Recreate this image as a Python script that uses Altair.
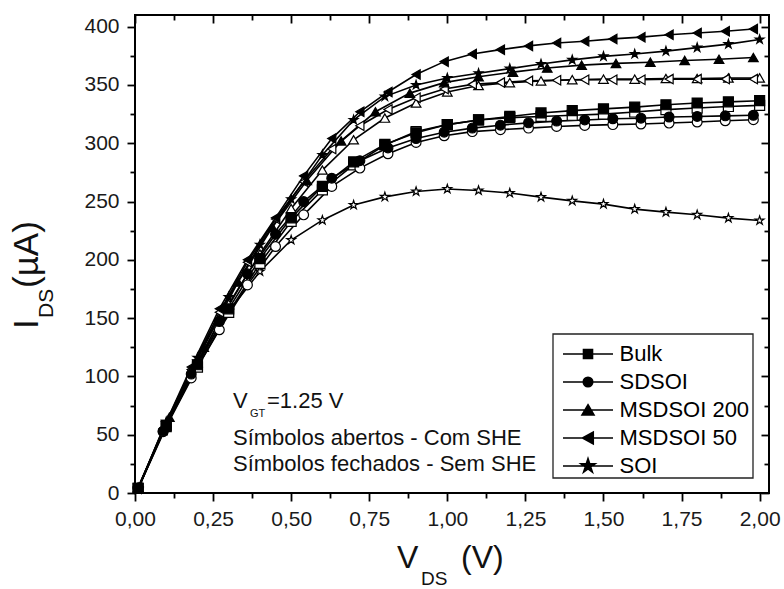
import altair as alt
import pandas as pd

# ---------------- data ----------------
V_STEP10 = [0.01, 0.10, 0.20, 0.30, 0.40, 0.50, 0.60, 0.70, 0.80, 0.90, 1.00,
            1.10, 1.20, 1.30, 1.40, 1.50, 1.60, 1.70, 1.80, 1.90, 2.00]
V_STEP09 = [0.01, 0.09, 0.18, 0.27, 0.36, 0.45, 0.54, 0.63, 0.72, 0.81, 0.90, 0.99,
            1.08, 1.17, 1.26, 1.35, 1.44, 1.53, 1.62, 1.71, 1.80, 1.89, 1.98]
V_STEP11 = [0.01, 0.11, 0.22, 0.33, 0.44, 0.55, 0.66, 0.77, 0.88, 0.99,
            1.10, 1.21, 1.32, 1.43, 1.54, 1.65, 1.76, 1.87, 1.98]

BULK_CLOSED = [4, 58, 110, 158, 201, 236, 263, 284, 299, 309, 316,
               320, 323, 326, 328, 329.5, 331, 333, 334.5, 335.5, 336.5]
BULK_OPEN = [4, 57, 108, 155, 197, 233, 260, 281.5, 298.5, 310, 316,
             320, 322, 323, 324, 325, 326.8, 328.8, 330.2, 331.5, 332.5]
SDSOI_CLOSED = [4, 53, 102, 147, 188, 222, 250, 270, 285, 296, 304, 309.5,
                313, 315.5, 317.5, 319, 320, 321, 321.5, 322.5, 323, 323.5, 324]
SDSOI_OPEN = [4, 52.6, 98.7, 140, 178.5, 211.4, 238.6, 263, 278.7, 291, 300.7, 306.4,
              310, 311.6, 313, 314.4, 315.3, 316, 316.5, 317.3, 318.2, 319.3, 320.2]
MSD200_CLOSED = [5, 65, 125, 181, 228, 268, 302, 327, 343, 352,
                 357, 361, 364.5, 367, 368.5, 369.5, 371, 372, 373.5]
MSD200_OPEN = [4, 60, 112, 162, 205, 244, 277, 303, 321.6, 334.5, 344,
               349.5, 352, 353.5, 354.5, 355, 355, 355.5, 355.5, 356, 356]
MSD50_CLOSED = [4, 55, 108, 158, 200, 236, 272, 304, 327, 344, 359, 370,
                376.5, 380.3, 383.5, 386, 387.5, 389.5, 391, 393, 394.5, 396, 398]
MSD50_OPEN = [4, 54, 106, 155, 198, 235, 267, 295, 315, 329, 339, 346.5,
              350.5, 352, 353.5, 354, 354.5, 354.5, 354.5, 355, 355, 355, 355]
SOI_CLOSED = [4, 61, 116, 168, 213, 252, 290, 320, 340, 350, 356,
              360, 364, 368, 371.5, 374.5, 376.5, 379, 382, 385, 389]
SOI_OPEN = [3, 60, 112.7, 155.6, 190, 217, 234, 247, 254, 258.6, 260.7,
            259.5, 257.3, 253.8, 250.6, 247.8, 243.5, 240.9, 238.6, 235.8, 233.7]

DEVICES = ["Bulk", "SDSOI", "MSDSOI 200", "MSDSOI 50", "SOI"]
SHE_STATES = ["closed", "open"]

X_MAJOR = [0.0, 0.25, 0.5, 0.75, 1.0, 1.25, 1.5, 1.75, 2.0]
X_MINOR = [0.125, 0.375, 0.625, 0.875, 1.125, 1.375, 1.625, 1.875]
Y_MAJOR = [0, 50, 100, 150, 200, 250, 300, 350, 400]
Y_MINOR = [25, 75, 125, 175, 225, 275, 325, 375]

X_TITLE = ["V", "DS", "(V)"]
Y_TITLE = ["I", "DS", "(µA)"]
ANNOT_VGT = ["V", "GT", "=1.25 V"]
ANNOT_LINES = ["Símbolos abertos - Com SHE", "Símbolos fechados - Sem SHE"]

SERIES = [
    ("SOI", "open", V_STEP10, SOI_OPEN),
    ("Bulk", "open", V_STEP10, BULK_OPEN),
    ("SDSOI", "open", V_STEP09, SDSOI_OPEN),
    ("MSDSOI 200", "open", V_STEP10, MSD200_OPEN),
    ("MSDSOI 50", "open", V_STEP09, MSD50_OPEN),
    ("Bulk", "closed", V_STEP10, BULK_CLOSED),
    ("SDSOI", "closed", V_STEP09, SDSOI_CLOSED),
    ("MSDSOI 200", "closed", V_STEP11, MSD200_CLOSED),
    ("MSDSOI 50", "closed", V_STEP09, MSD50_CLOSED),
    ("SOI", "closed", V_STEP10, SOI_CLOSED),
]

rows = []
k = 0
for dev, she, vs, iv in SERIES:
    for v, i in zip(vs, iv):
        rows.append({"V": v, "I": i, "device": dev, "she": she,
                     "series": f"{dev} {she}", "k": k})
        k += 1
df = pd.DataFrame(rows)

# ---------------- styling ----------------
FONT = "Liberation Sans"
STAR = ("M0,-1L0.2245,-0.309L0.951,-0.309L0.363,0.118L0.588,0.809L0,0.382"
        "L-0.588,0.809L-0.363,0.118L-0.951,-0.309L-0.2245,-0.309Z")
PLOT_SHAPES = ["square", "circle", "triangle-up", "triangle-left", STAR]
PLOT_SIZES = [100, 85, 165, 165, 330]

LEG_LINE = "M-5,0L5,0"
LEGEND_SHAPES = [
    LEG_LINE + "M-0.9,-0.9L0.9,-0.9L0.9,0.9L-0.9,0.9Z",
    LEG_LINE + "M-0.95,0A0.95,0.95 0 1,0 0.95,0A0.95,0.95 0 1,0 -0.95,0Z",
    LEG_LINE + "M0,-1.05L1.2,1L-1.2,1Z",
    LEG_LINE + "M-1.1,0L1.05,-1.2L1.05,1.2Z",
    LEG_LINE + "M0,-1.5L0.337,-0.464L1.427,-0.464L0.545,0.177L0.882,1.214L0,0.573"
               "L-0.882,1.214L-0.545,0.177L-1.427,-0.464L-0.337,-0.464Z",
]
BLACKS = ["black"] * len(DEVICES)

xscale = alt.Scale(domain=[0, 2.03], nice=False, zero=False)
yscale = alt.Scale(domain=[0, 410], nice=False)


def axis(**kw):
    base = dict(title=None, grid=False, domain=False, tickColor="black",
                tickWidth=1.8, labelFont=FONT, labelFontSize=21,
                labelColor="#1a1a1a")
    base.update(kw)
    return alt.Axis(**base)


lines = alt.Chart(df).mark_line(color="black", strokeWidth=1.6).encode(
    x=alt.X("V:Q", scale=xscale,
            axis=axis(orient="bottom", values=X_MAJOR, tickSize=8, labelPadding=7,
                      labelFlush=False, labelOverlap=False,
                      labelExpr="replace(format(datum.value, '.2f'), '.', ',')")),
    y=alt.Y("I:Q", scale=yscale,
            axis=axis(orient="left", values=Y_MAJOR, tickSize=8, labelPadding=8,
                      format="d", labelOverlap=False)),
    detail="series:N",
    order="V:Q",
)

points = alt.Chart(df).mark_point(filled=True, stroke="black", strokeWidth=1.2,
                                  opacity=1).encode(
    x=alt.X("V:Q", scale=xscale,
            axis=axis(orient="bottom", values=X_MINOR, tickSize=5, labels=False)),
    y=alt.Y("I:Q", scale=yscale,
            axis=axis(orient="left", values=Y_MINOR, tickSize=5, labels=False)),
    shape=alt.Shape("device:N", scale=alt.Scale(domain=DEVICES, range=PLOT_SHAPES),
                    legend=None),
    fill=alt.Fill("she:N", scale=alt.Scale(domain=SHE_STATES, range=["black", "white"]),
                  legend=None),
    size=alt.Size("device:N", scale=alt.Scale(domain=DEVICES, range=PLOT_SIZES),
                  legend=None),
    order="k:Q",
)

LEG = alt.Legend(
    title=None, orient="none", legendX=418, legendY=322,
    padding=6, rowPadding=6, symbolSize=100, symbolOffset=18,
    labelOffset=20.5, labelFont=FONT, labelFontSize=22,
    labelColor="black", labelLimit=400,
    symbolStrokeWidth=1.6, symbolOpacity=1)

legend_layer = alt.Chart(df).transform_filter("datum.V < 0").mark_point(
    filled=True, opacity=1).encode(
    x=alt.X("V:Q", scale=xscale,
            axis=axis(orient="top", values=X_MAJOR, tickSize=8, offset=-8, labels=False)),
    y=alt.Y("I:Q", scale=yscale,
            axis=axis(orient="right", values=Y_MAJOR, tickSize=8, offset=-8, labels=False)),
    shape=alt.Shape("device:N", scale=alt.Scale(domain=DEVICES, range=LEGEND_SHAPES),
                    legend=LEG),
    fill=alt.Fill("device:N", scale=alt.Scale(domain=DEVICES, range=BLACKS), legend=LEG),
    stroke=alt.Stroke("device:N", scale=alt.Scale(domain=DEVICES, range=BLACKS),
                      legend=LEG),
)

minor_frame = alt.Chart(df).transform_filter("datum.V < 0").mark_point().encode(
    x=alt.X("V:Q", scale=xscale,
            axis=axis(orient="top", values=X_MINOR, tickSize=5, offset=-5, labels=False)),
    y=alt.Y("I:Q", scale=yscale,
            axis=axis(orient="right", values=Y_MINOR, tickSize=5, offset=-5, labels=False)),
)

# border box around the legend
legend_box = alt.Chart(alt.Data(values=[{}])).mark_rect(
    filled=False, stroke="#222", strokeWidth=1.3).encode(
    x=alt.value(418), x2=alt.value(618), y=alt.value(319), y2=alt.value(463))


def label(text, x, y, size, angle=0):
    mk = dict(align="left", baseline="alphabetic", font=FONT, fontSize=size,
              color="#111")
    if angle:
        mk["angle"] = angle
    return alt.Chart(alt.Data(values=[{"t": text}])).mark_text(**mk).encode(
        x=alt.value(x), y=alt.value(y), text="t:N")


texts = [
    label(X_TITLE[0], 262, 553, 32),
    label(X_TITLE[1], 286, 570, 19),
    label(X_TITLE[2], 326, 553, 32),
    label(Y_TITLE[0], -97, 314, 35, 270),
    label(Y_TITLE[1], -82, 303, 21, 270),
    label(Y_TITLE[2], -97, 273, 35, 270),
    label(ANNOT_VGT[0], 98, 393, 22),
    label(ANNOT_VGT[1], 115, 402, 11),
    label(ANNOT_VGT[2], 132, 393, 22),
    label(ANNOT_LINES[0], 98, 430, 22),
    label(ANNOT_LINES[1], 98, 456, 22),
]

chart = alt.layer(lines, points, legend_layer, minor_frame, legend_box,
                  *texts).resolve_scale(
    shape="independent", fill="independent", stroke="independent"
).resolve_axis(
    x="independent", y="independent"
).properties(
    width=634, height=478,
    padding={"left": 135, "top": 15, "right": 15, "bottom": 96},
    autosize=alt.AutoSizeParams(type="none"),
).configure_view(stroke="black", strokeWidth=2)

chart.save("out.html", embed_options={"renderer": "svg", "actions": False})
